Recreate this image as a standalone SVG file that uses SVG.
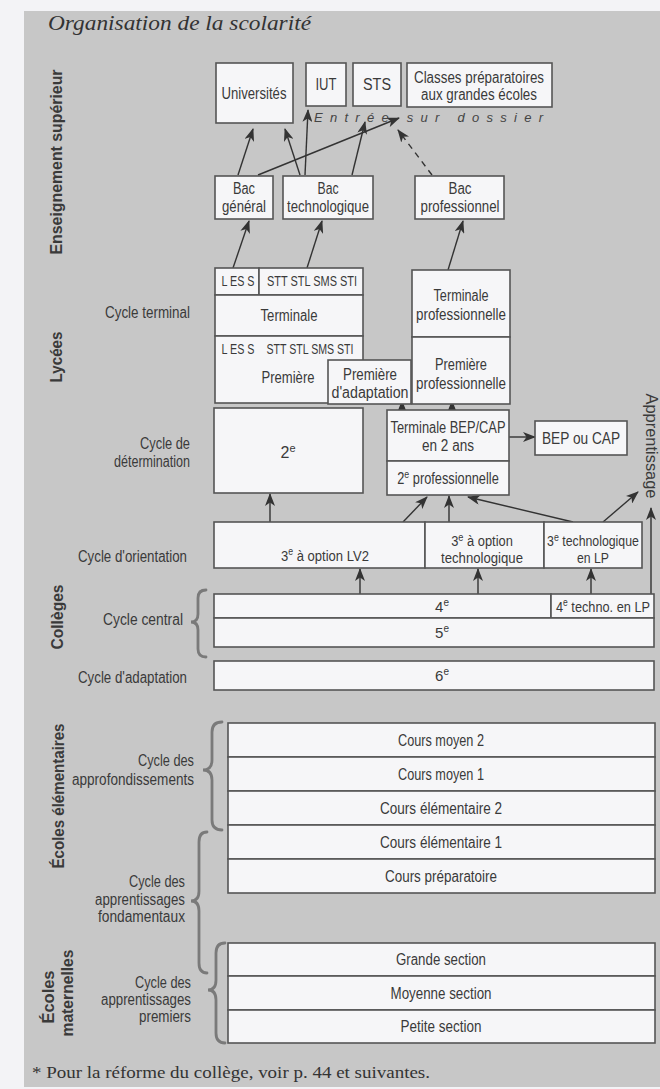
<svg xmlns="http://www.w3.org/2000/svg" width="660" height="1089" viewBox="0 0 660 1089">
<defs>
<style>
.bx{fill:#f6f6f8;stroke:#555;stroke-width:1.6}
.t{font-family:'Liberation Sans',Arial,sans-serif;font-size:16px;fill:#3a3a3a;text-anchor:middle}
.s{font-size:15px}
.xs{font-size:14px}
.l{font-family:'Liberation Sans',Arial,sans-serif;font-size:16px;fill:#3a3a3a;text-anchor:end}
.h{font-family:'Liberation Sans',Arial,sans-serif;font-size:16px;font-weight:bold;fill:#3a3a3a;text-anchor:middle}
.c{stroke:#333;stroke-width:1.4;fill:none;marker-end:url(#ah)}
.br{stroke:#7a7a7a;stroke-width:2.8;fill:none;stroke-linecap:round}
</style>
<marker id="ah" markerUnits="userSpaceOnUse" markerWidth="13" markerHeight="10" refX="12" refY="5" orient="auto">
<path d="M0,0 L13,5 L0,10 L3.5,5 Z" fill="#333"/>
</marker>
</defs>
<rect x="0" y="0" width="660" height="1089" fill="#f3f3f6"/>
<rect x="24" y="11" width="636" height="1076" fill="#c7c7c7"/>
<text x="48" y="30" font-family="'Liberation Serif','Times New Roman',serif" font-style="italic" font-size="22" fill="#333" textLength="263" lengthAdjust="spacingAndGlyphs">Organisation de la scolarité</text>

<g id="headings">
<text class="h" transform="translate(62,162) rotate(-90)" textLength="185" lengthAdjust="spacingAndGlyphs">Enseignement supérieur</text>
<text class="h" transform="translate(62,357) rotate(-90)" textLength="51" lengthAdjust="spacingAndGlyphs">Lycées</text>
<text class="h" transform="translate(63,617) rotate(-90)" textLength="65" lengthAdjust="spacingAndGlyphs">Collèges</text>
<text class="h" transform="translate(64,796) rotate(-90)" textLength="145" lengthAdjust="spacingAndGlyphs">Écoles élémentaires</text>
<text class="h" transform="translate(54,997) rotate(-90)" textLength="53" lengthAdjust="spacingAndGlyphs">Écoles</text>
<text class="h" transform="translate(73,993) rotate(-90)" textLength="87" lengthAdjust="spacingAndGlyphs">maternelles</text>
<text class="t" transform="translate(646,446) rotate(90)" textLength="105" lengthAdjust="spacingAndGlyphs">Apprentissage</text>
</g>

<g id="cycle-labels">
<text class="l" x="190" y="318" textLength="85" lengthAdjust="spacingAndGlyphs">Cycle terminal</text>
<text class="l" x="190" y="449" textLength="50" lengthAdjust="spacingAndGlyphs">Cycle de</text>
<text class="l" x="190" y="467" textLength="76" lengthAdjust="spacingAndGlyphs">détermination</text>
<text class="l" x="187" y="562" textLength="109" lengthAdjust="spacingAndGlyphs">Cycle d'orientation</text>
<text class="l" x="183" y="625" textLength="80" lengthAdjust="spacingAndGlyphs">Cycle central</text>
<text class="l" x="187" y="683" textLength="109" lengthAdjust="spacingAndGlyphs">Cycle d'adaptation</text>
<text class="l" x="194" y="766" textLength="56" lengthAdjust="spacingAndGlyphs">Cycle des</text>
<text class="l" x="194" y="785" textLength="122" lengthAdjust="spacingAndGlyphs">approfondissements</text>
<text class="l" x="185" y="887" textLength="56" lengthAdjust="spacingAndGlyphs">Cycle des</text>
<text class="l" x="185" y="905" textLength="90" lengthAdjust="spacingAndGlyphs">apprentissages</text>
<text class="l" x="185" y="922" textLength="87" lengthAdjust="spacingAndGlyphs">fondamentaux</text>
<text class="l" x="191" y="988" textLength="56" lengthAdjust="spacingAndGlyphs">Cycle des</text>
<text class="l" x="191" y="1005" textLength="90" lengthAdjust="spacingAndGlyphs">apprentissages</text>
<text class="l" x="191" y="1022" textLength="52" lengthAdjust="spacingAndGlyphs">premiers</text>
</g>

<g id="braces">
<path class="br" d="M206,590 Q198,590 198,598 L198,614 Q198,622 191,622 Q198,622 198,630 L198,649 Q198,657 206,657"/>
<path class="br" d="M222,722 Q212,722 212,732 L212,760 Q212,770 203,770 Q212,770 212,780 L212,820 Q212,830 222,830"/>
<path class="br" d="M207,832 Q199,832 199,842 L199,891 Q199,901 191,901 Q199,901 199,911 L199,963 Q199,973 207,973"/>
<path class="br" d="M225,943 Q216,943 216,953 L216,980 Q216,990 208,990 Q216,990 216,1000 L216,1033 Q216,1043 225,1043"/>
</g>

<g id="connectors">
<line class="c" x1="238" y1="175" x2="253" y2="129"/>
<line class="c" x1="300" y1="175" x2="285" y2="129"/>
<line class="c" x1="305" y1="175" x2="308" y2="110"/>
<line class="c" x1="352" y1="175" x2="365" y2="122"/>
<line class="c" x1="258" y1="175" x2="399" y2="118"/>
<line class="c" x1="432" y1="175" x2="398" y2="130" stroke-dasharray="6,5"/>
<line class="c" x1="233" y1="268" x2="249" y2="221"/>
<line class="c" x1="307" y1="268" x2="322" y2="221"/>
<line class="c" x1="448" y1="270" x2="463" y2="221"/>
<line class="c" x1="402" y1="416" x2="402" y2="401"/>
<line class="c" x1="452" y1="416" x2="452" y2="401"/>
<line class="c" x1="509" y1="437" x2="535" y2="437"/>
<line class="c" x1="270" y1="522" x2="270" y2="494"/>
<line class="c" x1="403" y1="522" x2="427" y2="497"/>
<line class="c" x1="449" y1="522" x2="449" y2="496"/>
<line class="c" x1="573" y1="522" x2="468" y2="497"/>
<line class="c" x1="603" y1="522" x2="638" y2="492"/>
<line class="c" x1="651" y1="594" x2="651" y2="508"/>
<line class="c" x1="360" y1="594" x2="360" y2="569"/>
<line class="c" x1="478" y1="594" x2="478" y2="569"/>
<line class="c" x1="591" y1="594" x2="591" y2="569"/>
</g>

<g id="universites"><rect class="bx" x="216" y="63" width="77" height="60"/><text class="t" x="254" y="99" textLength="65" lengthAdjust="spacingAndGlyphs">Universités</text></g>
<g id="iut"><rect class="bx" x="306" y="63" width="40" height="43"/><text class="t" x="326" y="90" textLength="21" lengthAdjust="spacingAndGlyphs">IUT</text></g>
<g id="sts"><rect class="bx" x="353" y="63" width="48" height="43"/><text class="t" x="377" y="90" textLength="28" lengthAdjust="spacingAndGlyphs">STS</text></g>
<g id="cpge"><rect class="bx" x="407" y="63" width="145" height="44"/><text class="t" x="479" y="83" textLength="130" lengthAdjust="spacingAndGlyphs">Classes préparatoires</text><text class="t" x="479" y="100" textLength="116" lengthAdjust="spacingAndGlyphs">aux grandes écoles</text></g>
<text id="entree" x="314" y="122" font-family="'Liberation Sans',Arial,sans-serif" font-style="italic" font-size="13" fill="#444" textLength="229" lengthAdjust="spacing">Entrée sur dossier</text>

<g id="bac-general"><rect class="bx" x="215" y="176" width="58" height="43"/><text class="t" x="244" y="194" textLength="22" lengthAdjust="spacingAndGlyphs">Bac</text><text class="t" x="244" y="212" textLength="44" lengthAdjust="spacingAndGlyphs">général</text></g>
<g id="bac-techno"><rect class="bx" x="283" y="176" width="90" height="43"/><text class="t" x="328" y="194" textLength="21" lengthAdjust="spacingAndGlyphs">Bac</text><text class="t" x="328" y="212" textLength="82" lengthAdjust="spacingAndGlyphs">technologique</text></g>
<g id="bac-pro"><rect class="bx" x="415" y="176" width="89" height="43"/><text class="t" x="460" y="194" textLength="23" lengthAdjust="spacingAndGlyphs">Bac</text><text class="t" x="460" y="212" textLength="79" lengthAdjust="spacingAndGlyphs">professionnel</text></g>

<g id="terminale">
<rect class="bx" x="215" y="268" width="44" height="27"/><rect class="bx" x="259" y="268" width="104" height="27"/>
<rect class="bx" x="215" y="295" width="148" height="41"/>
<text class="t xs" x="238" y="286" textLength="33" lengthAdjust="spacingAndGlyphs">L ES S</text>
<text class="t xs" x="312" y="286" textLength="90" lengthAdjust="spacingAndGlyphs">STT STL SMS STI</text>
<text class="t" x="289" y="321" textLength="57" lengthAdjust="spacingAndGlyphs">Terminale</text>
</g>
<g id="premiere">
<rect class="bx" x="215" y="336" width="148" height="67"/>
<text class="t xs" x="238" y="354" textLength="33" lengthAdjust="spacingAndGlyphs">L ES S</text>
<text class="t xs" x="310" y="354" textLength="87" lengthAdjust="spacingAndGlyphs">STT STL SMS STI</text>
<text class="t" x="288" y="383" textLength="53" lengthAdjust="spacingAndGlyphs">Première</text>
</g>
<g id="premiere-adaptation"><rect class="bx" x="328" y="360" width="83" height="44"/><text class="t" x="370" y="380" textLength="54" lengthAdjust="spacingAndGlyphs">Première</text><text class="t" x="370" y="398" textLength="77" lengthAdjust="spacingAndGlyphs">d'adaptation</text></g>
<g id="terminale-pro"><rect class="bx" x="412" y="270" width="98" height="67"/><text class="t" x="461" y="301" textLength="55" lengthAdjust="spacingAndGlyphs">Terminale</text><text class="t" x="461" y="320" textLength="90" lengthAdjust="spacingAndGlyphs">professionnelle</text></g>
<g id="premiere-pro"><rect class="bx" x="412" y="337" width="98" height="67"/><text class="t" x="461" y="370" textLength="52" lengthAdjust="spacingAndGlyphs">Première</text><text class="t" x="461" y="389" textLength="90" lengthAdjust="spacingAndGlyphs">professionnelle</text></g>

<g id="seconde"><rect class="bx" x="214" y="408" width="149" height="85"/><text class="t" x="288" y="458">2<tspan dy="-6" font-size="11">e</tspan></text></g>
<g id="terminale-bep"><rect class="bx" x="387" y="410" width="122" height="51"/><text class="t" x="448" y="433" textLength="115" lengthAdjust="spacingAndGlyphs">Terminale BEP/CAP</text><text class="t" x="448" y="451" textLength="52" lengthAdjust="spacingAndGlyphs">en 2 ans</text></g>
<g id="seconde-pro"><rect class="bx" x="387" y="461" width="122" height="34"/><text class="t" transform="matrix(0.8,0,0,1,89.6,0)" x="448" y="484">2<tspan dy="-6" font-size="11">e</tspan><tspan dy="6"> professionnelle</tspan></text></g>
<g id="bep-cap"><rect class="bx" x="535" y="421" width="92" height="34"/><text class="t" x="581" y="444" textLength="78" lengthAdjust="spacingAndGlyphs">BEP ou CAP</text></g>

<g id="troisieme-lv2"><rect class="bx" x="214" y="522" width="211" height="46"/><text class="t s" transform="matrix(0.87,0,0,1,42.25,0)" x="325" y="561">3<tspan dy="-6" font-size="10">e</tspan><tspan dy="6"> à option LV2</tspan></text></g>
<g id="troisieme-techno"><rect class="bx" x="425" y="522" width="119" height="46"/><text class="t xs" transform="matrix(0.92,0,0,1,38.56,0)" x="482" y="546">3<tspan dy="-5" font-size="10">e</tspan><tspan dy="5"> à option</tspan></text><text class="t xs" x="482" y="563" textLength="82" lengthAdjust="spacingAndGlyphs">technologique</text></g>
<g id="troisieme-lp"><rect class="bx" x="544" y="522" width="98" height="46"/><text class="t xs" transform="matrix(0.88,0,0,1,71.16,0)" x="593" y="546">3<tspan dy="-5" font-size="10">e</tspan><tspan dy="5"> technologique</tspan></text><text class="t xs" x="593" y="563" textLength="32" lengthAdjust="spacingAndGlyphs">en LP</text></g>

<g id="quatrieme"><rect class="bx" x="214" y="594" width="337" height="24"/><text class="t s" x="442" y="612">4<tspan dy="-6" font-size="10">e</tspan></text></g>
<g id="quatrieme-lp"><rect class="bx" x="551" y="594" width="103" height="24"/><text class="t s" transform="matrix(0.85,0,0,1,90.45,0)" x="603" y="612">4<tspan dy="-6" font-size="10">e</tspan><tspan dy="6"> techno. en LP</tspan></text></g>
<g id="cinquieme"><rect class="bx" x="214" y="618" width="440" height="29"/><text class="t s" x="442" y="638">5<tspan dy="-6" font-size="10">e</tspan></text></g>
<g id="sixieme"><rect class="bx" x="214" y="661" width="440" height="29"/><text class="t s" x="442" y="681">6<tspan dy="-6" font-size="10">e</tspan></text></g>

<g id="cm2"><rect class="bx" x="228" y="723" width="427" height="34"/><text class="t" x="441" y="746" textLength="86" lengthAdjust="spacingAndGlyphs">Cours moyen 2</text></g>
<g id="cm1"><rect class="bx" x="228" y="757" width="427" height="34"/><text class="t" x="441" y="780" textLength="86" lengthAdjust="spacingAndGlyphs">Cours moyen 1</text></g>
<g id="ce2"><rect class="bx" x="228" y="791" width="427" height="34"/><text class="t" x="441" y="814" textLength="122" lengthAdjust="spacingAndGlyphs">Cours élémentaire 2</text></g>
<g id="ce1"><rect class="bx" x="228" y="825" width="427" height="34"/><text class="t" x="441" y="848" textLength="122" lengthAdjust="spacingAndGlyphs">Cours élémentaire 1</text></g>
<g id="cp"><rect class="bx" x="228" y="859" width="427" height="34"/><text class="t" x="441" y="882" textLength="112" lengthAdjust="spacingAndGlyphs">Cours préparatoire</text></g>

<g id="gs"><rect class="bx" x="228" y="943" width="427" height="33"/><text class="t" x="441" y="965" textLength="90" lengthAdjust="spacingAndGlyphs">Grande section</text></g>
<g id="ms"><rect class="bx" x="228" y="976" width="427" height="34"/><text class="t" x="441" y="999" textLength="101" lengthAdjust="spacingAndGlyphs">Moyenne section</text></g>
<g id="ps"><rect class="bx" x="228" y="1010" width="427" height="33"/><text class="t" x="441" y="1032" textLength="81" lengthAdjust="spacingAndGlyphs">Petite section</text></g>

<text x="32" y="1078" font-family="'Liberation Serif','Times New Roman',serif" font-size="16" fill="#333" textLength="398" lengthAdjust="spacingAndGlyphs">* Pour la réforme du collège, voir p. 44 et suivantes.</text>
</svg>
